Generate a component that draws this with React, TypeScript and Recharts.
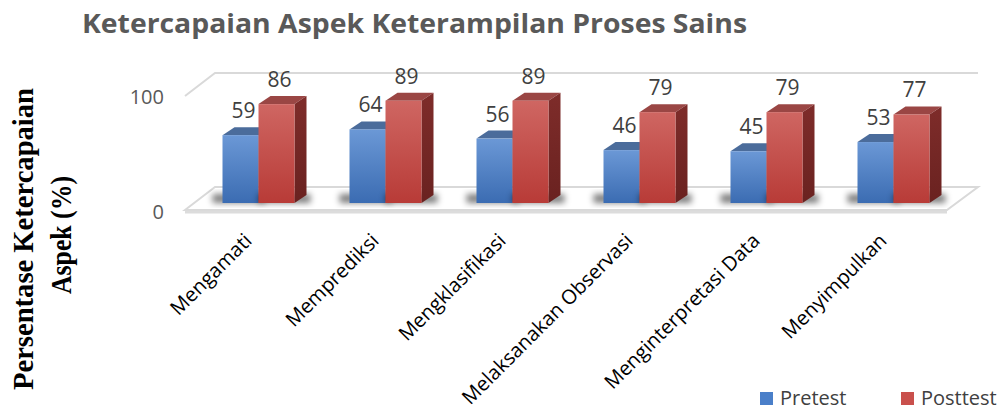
import React from 'react';
import { BarChart, Bar, XAxis, YAxis, ReferenceArea, LabelList, Legend } from 'recharts';

const categories = [
  'Mengamati',
  'Memprediksi',
  'Mengklasifikasi',
  'Melaksanakan Observasi',
  'Menginterpretasi Data',
  'Menyimpulkan',
];
const pretest = [59, 64, 56, 46, 45, 53];
const posttest = [86, 89, 89, 79, 79, 77];
const yTicks = [0, 100];
const seriesOrder = ['pretest', 'posttest'];

const data = categories.map((name, i) => ({ name, pretest: pretest[i], posttest: posttest[i] }));

const SANS = '"Open Sans", "DejaVu Sans", sans-serif';
const DX = 12;
const DY = 8;

const palette = {
  pretest: { top: '#4b6c9b', hi: '#6b98d6', lo: '#3b6cb2', side: '#2f5487', legend: '#4a7fc9' },
  posttest: { top: '#9a4644', hi: '#cf6662', lo: '#b83b37', side: '#7e2c2a', legend: '#c9504c' },
};

// 3D back wall + floor, built from the 0..100 reference rect
const Frame = (props: any) => {
  const { x, y, width, height } = props;
  const b = y + height;
  return (
    <g>
      <defs>
        <filter id="blur" x="-50%" y="-50%" width="200%" height="200%">
          <feGaussianBlur stdDeviation="3" />
        </filter>
        {(['pretest', 'posttest'] as const).map((k) => (
          <React.Fragment key={k}>
            <linearGradient id={`front-${k}`} x1="0" y1="0" x2="0" y2="1">
              <stop offset="0" stopColor={palette[k].hi} />
              <stop offset="1" stopColor={palette[k].lo} />
            </linearGradient>
            <linearGradient id={`side-${k}`} x1="0" y1="0" x2="0" y2="1">
              <stop offset="0" stopColor={palette[k].side} />
              <stop offset="1" stopColor="#6a2220" />
            </linearGradient>
          </React.Fragment>
        ))}
      </defs>
      <polygon
        points={`${x - 9.5},${b + 7} ${x + 20.5},${b - 16} ${x + width + 21.5},${b - 16} ${x + width - 9.5},${b + 7}`}
        fill="#ffffff"
        stroke="#d9d9d9"
        strokeWidth={2}
      />
      <line x1={x - 9.5} y1={b + 9} x2={x + width - 9.5} y2={b + 9} stroke="#dcdcdc" strokeWidth={3} />
      <polyline
        points={`${x - 9.5},${y + 8} ${x + 20.5},${y - 15} ${x + width + 21.5},${y - 15}`}
        fill="none"
        stroke="#d9d9d9"
        strokeWidth={2}
      />
    </g>
  );
};

const Box = (props: any) => {
  const { x, y, width, height, k } = props;
  if (height == null || height <= 0) return null;
  const c = palette[k as 'pretest' | 'posttest'];
  const b = y + height;
  const shadowX = k === 'pretest' ? x - 10 : x;
  return (
    <g>
      <rect x={shadowX} y={b - 9} width={width + 16} height={9} fill="#000" opacity={0.5} filter="url(#blur)" />
      <polygon
        points={`${x},${y} ${x + DX},${y - DY} ${x + width + DX},${y - DY} ${x + width},${y}`}
        fill={c.top}
      />
      <polygon
        points={`${x + width},${y} ${x + width + DX},${y - DY} ${x + width + DX},${b - DY} ${x + width},${b}`}
        fill={`url(#side-${k})`}
      />
      <rect x={x} y={y} width={width} height={height} fill={`url(#front-${k})`} />
    </g>
  );
};

const ValueLabel = (props: any) => {
  const { x, y, width, value } = props;
  return (
    <text
      x={x + width / 2 + 3}
      y={y - 25}
      textAnchor="middle"
      dominantBaseline="central"
      fontFamily={SANS}
      fontSize={21}
      fill="#404040"
    >
      {value}
    </text>
  );
};

const XTick = (props: any) => {
  const { x, y, payload } = props;
  return (
    <text
      transform={`translate(${x - 5},${y + 39}) rotate(-45)`}
      textAnchor="end"
      fontFamily={SANS}
      fontSize={20}
      fill="#000"
    >
      {payload.value}
    </text>
  );
};

const YTick = (props: any) => {
  const { y, payload } = props;
  return (
    <text x={164} y={y + 8} textAnchor="end" dominantBaseline="central" fontFamily={SANS} fontSize={20} fill="#595959">
      {payload.value}
    </text>
  );
};

const LegendContent = (props: any) => {
  const payload = [...(props.payload || [])].sort(
    (a: any, b: any) => seriesOrder.indexOf(a.dataKey) - seriesOrder.indexOf(b.dataKey),
  );
  return (
    <div style={{ display: 'flex', fontFamily: SANS, fontSize: 20, color: '#404040', lineHeight: '20px', width: 300 }}>
      {payload.map((p: any) => (
        <div key={p.value} style={{ display: 'flex', alignItems: 'center', width: 141, flexShrink: 0 }}>
          <span
            style={{
              display: 'inline-block',
              width: 13,
              height: 13,
              background: palette[p.dataKey as 'pretest' | 'posttest'].legend,
              marginRight: 7,
            }}
          />
          <span>{p.value}</span>
        </div>
      ))}
    </div>
  );
};

export default function App() {
  return (
    <div style={{ position: 'absolute', left: 0, top: 0, width: 1003, height: 410, background: '#fff', overflow: 'hidden' }}>
      <BarChart
        width={1003}
        height={410}
        data={data}
        margin={{ top: 88, right: 46.5, bottom: 57, left: 0 }}
        barGap={0}
        barSize={36}
      >
        <ReferenceArea y1={0} y2={100} shape={Frame} ifOverflow="visible" />
        <XAxis
          dataKey="name"
          height={150}
          interval={0}
          tickLine={false}
          axisLine={false}
          tickSize={0}
          tickMargin={0}
          tick={XTick}
        />
        <YAxis
          width={194.5}
          domain={[0, 100]}
          ticks={yTicks}
          tickLine={false}
          axisLine={false}
          tick={YTick}
        />
        <Legend
          layout="horizontal"
          verticalAlign="middle"
          align="center"
          content={LegendContent}
          wrapperStyle={{ left: 760, top: 388, width: 243, right: 'auto', bottom: 'auto' }}
        />
        <Bar dataKey="pretest" name="Pretest" fill="#4f81bd" isAnimationActive={false} shape={(p: any) => <Box {...p} k="pretest" />}>
          <LabelList dataKey="pretest" content={ValueLabel} />
        </Bar>
        <Bar dataKey="posttest" name="Posttest" fill="#c0504d" isAnimationActive={false} shape={(p: any) => <Box {...p} k="posttest" />}>
          <LabelList dataKey="posttest" content={ValueLabel} />
        </Bar>
        <text x={82} y={33} fontFamily={SANS} fontWeight="bold" fontSize={27} fill="#595959" textLength={665} lengthAdjust="spacingAndGlyphs">
          Ketercapaian Aspek Keterampilan Proses Sains
        </text>
        <text
          transform="translate(23,239) rotate(-90)"
          textAnchor="middle"
          dominantBaseline="central"
          fontFamily='"Liberation Serif", "Times New Roman", serif'
          fontWeight="bold"
          fontSize={29}
          fill="#000"
          textLength={302}
          lengthAdjust="spacingAndGlyphs"
        >
          Persentase Ketercapaian
        </text>
        <text
          transform="translate(61,235) rotate(-90)"
          textAnchor="middle"
          dominantBaseline="central"
          fontFamily='"Liberation Serif", "Times New Roman", serif'
          fontWeight="bold"
          fontSize={29}
          fill="#000"
          textLength={118}
          lengthAdjust="spacingAndGlyphs"
        >
          Aspek (%)
        </text>
      </BarChart>
    </div>
  );
}
